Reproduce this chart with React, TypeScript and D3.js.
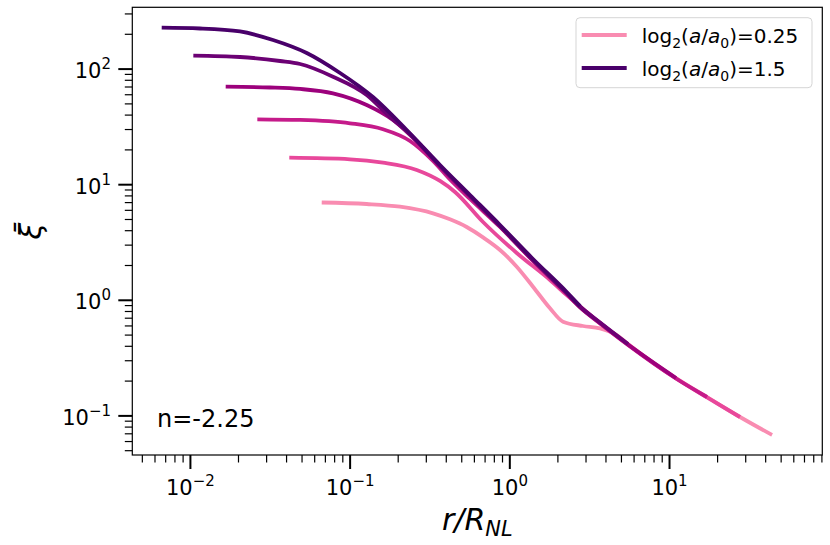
import React from 'react';
import * as d3 from 'd3';

const W = 830;
const H = 545;
const PLOT = { left: 132.3, right: 822.3, top: 7.3, bottom: 455 };

const xDomain = [0.004326, 90.5];
const yDomain = [0.04589, 342.4];

const xMajorTicks = [0.01, 0.1, 1, 10];
const xMajorExp = ['−2', '−1', '0', '1'];
const yMajorTicks = [0.1, 1, 10, 100];
const yMajorExp = ['−1', '0', '1', '2'];

const aLog2 = [0.25, 0.5, 0.75, 1.0, 1.25, 1.5];
const legendIdx = [0, 5];
const annotation = 'n=-2.25';

// curve log2(a/a0)=0.25
const r1 = [0.0664, 0.127, 0.2053, 0.3304, 0.422, 0.537, 0.6795, 0.8681, 1.105, 1.397, 1.785, 2.153, 2.873, 3.671, 4.67, 5.497, 10.98, 17.17, 27.63, 43.84];
const xi1 = [7.015, 6.81, 6.45, 5.655, 5.02, 4.305, 3.5, 2.724, 1.953, 1.311, 0.8526, 0.653, 0.5993, 0.5725, 0.501, 0.4188, 0.2128, 0.1457, 0.0978, 0.0684];
// 0.5
const r2 = [0.0416, 0.0999, 0.1607, 0.2612, 0.3655, 0.4537, 0.6795, 1.105, 1.785, 2.272, 2.873, 3.671, 5.497, 10.98, 17.17, 27.63];
const xi2 = [17.12, 16.59, 15.5, 13.41, 10.77, 8.65, 4.757, 2.566, 1.498, 1.111, 0.841, 0.6363, 0.4146, 0.2107, 0.1443, 0.0978];
// 0.75
const r3 = [0.02624, 0.0486, 0.0999, 0.1607, 0.2372, 0.3304, 0.422, 0.5633, 0.8681, 1.397, 2.272, 2.752, 3.671, 5.497, 10.98, 17.17];
const xi3 = [36.8, 36.3, 33.97, 30.15, 23.88, 16.03, 11.09, 7.52, 4.305, 2.188, 1.134, 0.8666, 0.63, 0.4106, 0.2107, 0.1457];
// 1.0
const r4 = [0.01663, 0.0315, 0.0486, 0.0781, 0.127, 0.1856, 0.2612, 0.3655, 0.5633, 0.8681, 1.397, 2.272, 2.752, 3.671, 5.497, 10.98];
const xi4 = [70.4, 69.3, 67.3, 61.7, 48.9, 36.3, 23.64, 14.37, 7.906, 4.348, 2.21, 1.145, 0.875, 0.6363, 0.4146, 0.2128];
// 1.25
const r5 = [0.01043, 0.02045, 0.0364, 0.0486, 0.0781, 0.127, 0.1778, 0.2262, 0.3655, 0.5633, 0.8681, 1.397, 2.272, 2.752, 3.671, 5.497];
const xi5 = [130.6, 127.2, 117.5, 110.7, 86.0, 59.7, 38.5, 29.15, 14.52, 7.985, 4.392, 2.232, 1.157, 0.884, 0.6426, 0.4188];
// 1.5
const r6 = [0.00661, 0.01148, 0.02045, 0.0329, 0.0535, 0.0865, 0.139, 0.2262, 0.3655, 0.5633, 0.8681, 1.397, 2.272, 2.752];
const xi6 = [228.1, 224.5, 211.5, 178.5, 137.8, 92.5, 57.4, 29.74, 14.81, 8.145, 4.48, 2.277, 1.18, 0.8926];

const rs = [r1, r2, r3, r4, r5, r6];
const xis = [xi1, xi2, xi3, xi4, xi5, xi6];
const colors = ['#f98cb1', '#e8489b', '#c51b8a', '#9c017c', '#6c0174', '#49006a'];

function minorTicks(domain: number[]) {
  const out: number[] = [];
  const lo = Math.floor(Math.log10(domain[0]));
  const hi = Math.ceil(Math.log10(domain[1]));
  for (let e = lo; e <= hi; e++) {
    for (let m = 2; m <= 9; m++) {
      const v = m * Math.pow(10, e);
      if (v >= domain[0] && v <= domain[1]) out.push(v);
    }
  }
  return out;
}

export default function App() {
  const x = d3.scaleLog().domain(xDomain).range([PLOT.left, PLOT.right]);
  const y = d3.scaleLog().domain(yDomain).range([PLOT.bottom, PLOT.top]);
  const line = d3.line<[number, number]>().x(d => x(d[0])).y(d => y(d[1])).curve(d3.curveMonotoneX);

  const font = 'DejaVu Sans';
  const majorLen = 14;
  const minorLen = 7.5;

  return (
    <svg width={W} height={H} style={{ position: 'absolute', left: 0, top: 0, background: '#fff' }} fontFamily={font}>
      <rect x={0} y={0} width={W} height={H} fill="#fff" />
      <defs>
        <clipPath id="plotclip">
          <rect x={PLOT.left} y={PLOT.top} width={PLOT.right - PLOT.left} height={PLOT.bottom - PLOT.top} />
        </clipPath>
      </defs>
      <g clipPath="url(#plotclip)">
        {rs.map((r, i) => (
          <path key={i} d={line(r.map((v, j) => [v, xis[i][j]] as [number, number])) || ''} fill="none" stroke={colors[i]} strokeWidth={3.8} strokeLinecap="butt" strokeLinejoin="round" />
        ))}
      </g>
      <rect x={PLOT.left} y={PLOT.top} width={PLOT.right - PLOT.left} height={PLOT.bottom - PLOT.top} fill="none" stroke="#000" strokeWidth={1.2} />
      {minorTicks(xDomain).map((t, i) => (
        <line key={'xm' + i} x1={x(t)} x2={x(t)} y1={PLOT.bottom} y2={PLOT.bottom + minorLen} stroke="#000" strokeWidth={1.2} />
      ))}
      {xMajorTicks.map((t, i) => (
        <g key={'xM' + i}>
          <line x1={x(t)} x2={x(t)} y1={PLOT.bottom} y2={PLOT.bottom + majorLen} stroke="#000" strokeWidth={2} />
          <text x={x(t)} y={PLOT.bottom + 40} textAnchor="middle" fontSize={21}>
            10<tspan dy={-9} fontSize={15}>{xMajorExp[i]}</tspan>
          </text>
        </g>
      ))}
      {minorTicks(yDomain).map((t, i) => (
        <line key={'ym' + i} x1={PLOT.left - minorLen} x2={PLOT.left} y1={y(t)} y2={y(t)} stroke="#000" strokeWidth={1.2} />
      ))}
      {yMajorTicks.map((t, i) => (
        <g key={'yM' + i}>
          <line x1={PLOT.left - majorLen} x2={PLOT.left} y1={y(t)} y2={y(t)} stroke="#000" strokeWidth={2} />
          <text x={111} y={y(t) + 9} textAnchor="end" fontSize={21}>
            10<tspan dy={-9} fontSize={15}>{yMajorExp[i]}</tspan>
          </text>
        </g>
      ))}
      <text x={(PLOT.left + PLOT.right) / 2} y={530} textAnchor="middle" fontSize={30} fontStyle="italic">
        r/R<tspan dy={6} fontSize={21}>NL</tspan>
      </text>
      <text transform={`translate(41, ${(PLOT.top + PLOT.bottom) / 2}) rotate(-90)`} textAnchor="middle" fontSize={30} fontStyle="italic">
        ξ̄
      </text>
      <text x={157} y={427} fontSize={24}>{annotation}</text>
      <rect x={576} y={17.7} width={236} height={70} rx={4} fill="#fff" fillOpacity={0.8} stroke="#d5d5d5" strokeWidth={1} />
      {legendIdx.map((idx, k) => {
        const ly = 35 + k * 33;
        return (
          <g key={'lg' + k}>
            <line x1={581.7} x2={626.7} y1={ly} y2={ly} stroke={colors[idx]} strokeWidth={3.8} />
            <text x={641.7} y={ly + 8} fontSize={20}>
              log<tspan dy={5} fontSize={14}>2</tspan>
              <tspan dy={-5}>(</tspan>
              <tspan fontStyle="italic">a</tspan>/<tspan fontStyle="italic">a</tspan>
              <tspan dy={5} fontSize={14}>0</tspan>
              <tspan dy={-5}>)={aLog2[idx]}</tspan>
            </text>
          </g>
        );
      })}
    </svg>
  );
}
